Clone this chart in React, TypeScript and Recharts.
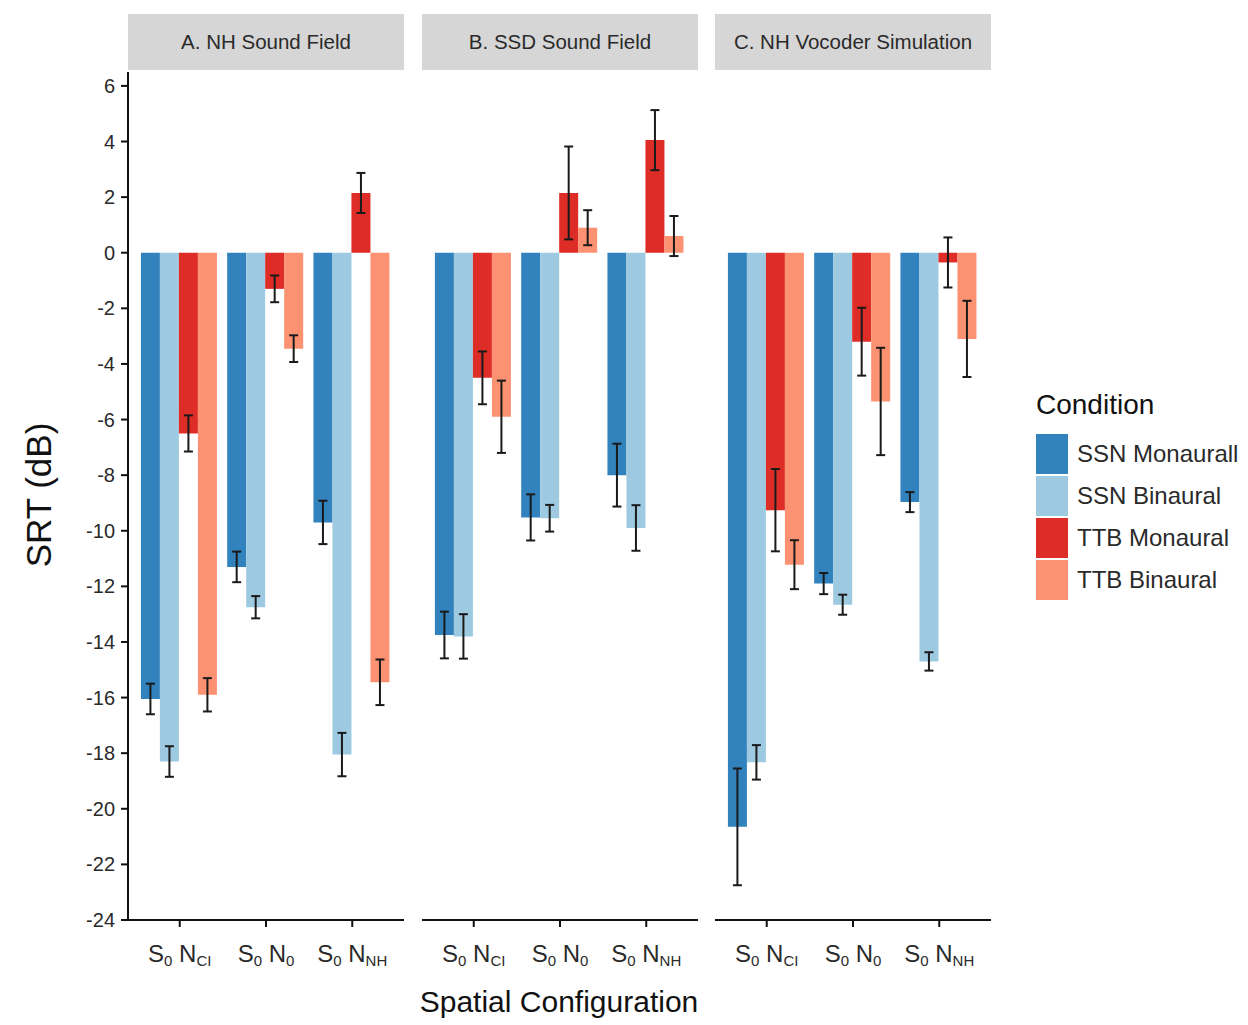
import { BarChart, Bar, XAxis, YAxis, ErrorBar } from "recharts"

const FONT = "'Liberation Sans', Arial, sans-serif"

const C_SSN_MONO = "#3182bd"
const C_SSN_BIN = "#9ecae1"
const C_TTB_MONO = "#de2d26"
const C_TTB_BIN = "#fc9272"

// spatial configurations: [S subscript, N subscript]
const configs = ["S0NCI", "S0N0", "S0NNH"]
const configSubs = [["0", "CI"], ["0", "0"], ["0", "NH"]]

const yTicks = [6, 4, 2, 0, -2, -4, -6, -8, -10, -12, -14, -16, -18, -20, -22, -24]

// A. NH Sound Field
const nhSsnMono = [-16.05, -11.3, -9.7]
const nhSsnBin = [-18.3, -12.75, -18.05]
const nhTtbMono = [-6.5, -1.3, 2.15]
const nhTtbBin = [-15.9, -3.45, -15.45]
const nhSsnMonoErr = [0.55, 0.55, 0.78]
const nhSsnBinErr = [0.55, 0.4, 0.78]
const nhTtbMonoErr = [0.65, 0.48, 0.72]
const nhTtbBinErr = [0.6, 0.48, 0.82]

// B. SSD Sound Field
const ssdSsnMono = [-13.75, -9.52, -8.0]
const ssdSsnBin = [-13.8, -9.55, -9.9]
const ssdTtbMono = [-4.5, 2.15, 4.05]
const ssdTtbBin = [-5.9, 0.9, 0.6]
const ssdSsnMonoErr = [0.84, 0.83, 1.13]
const ssdSsnBinErr = [0.8, 0.48, 0.82]
const ssdTtbMonoErr = [0.95, 1.67, 1.08]
const ssdTtbBinErr = [1.3, 0.63, 0.72]

// C. NH Vocoder Simulation
const vocSsnMono = [-20.65, -11.9, -8.97]
const vocSsnBin = [-18.33, -12.66, -14.7]
const vocTtbMono = [-9.26, -3.2, -0.35]
const vocTtbBin = [-11.22, -5.35, -3.1]
const vocSsnMonoErr = [2.1, 0.38, 0.36]
const vocSsnBinErr = [0.62, 0.36, 0.33]
const vocTtbMonoErr = [1.48, 1.22, 0.9]
const vocTtbBinErr = [0.88, 1.93, 1.37]

function buildRows(sm: number[], sb: number[], tm: number[], tb: number[],
  sme: number[], sbe: number[], tme: number[], tbe: number[]) {
  return configs.map((c, i) => ({
    config: c,
    ssnMono: sm[i], ssnBin: sb[i], ttbMono: tm[i], ttbBin: tb[i],
    ssnMonoErr: sme[i], ssnBinErr: sbe[i], ttbMonoErr: tme[i], ttbBinErr: tbe[i],
  }))
}

const panels = [
  {
    title: "A. NH Sound Field", left: 128, showY: true,
    rows: buildRows(nhSsnMono, nhSsnBin, nhTtbMono, nhTtbBin,
      nhSsnMonoErr, nhSsnBinErr, nhTtbMonoErr, nhTtbBinErr),
  },
  {
    title: "B. SSD Sound Field", left: 422, showY: false,
    rows: buildRows(ssdSsnMono, ssdSsnBin, ssdTtbMono, ssdTtbBin,
      ssdSsnMonoErr, ssdSsnBinErr, ssdTtbMonoErr, ssdTtbBinErr),
  },
  {
    title: "C. NH Vocoder Simulation", left: 715, showY: false,
    rows: buildRows(vocSsnMono, vocSsnBin, vocTtbMono, vocTtbBin,
      vocSsnMonoErr, vocSsnBinErr, vocTtbMonoErr, vocTtbBinErr),
  },
]

const legendItems = [
  { label: "SSN Monaurall", color: C_SSN_MONO },
  { label: "SSN Binaural", color: C_SSN_BIN },
  { label: "TTB Monaural", color: C_TTB_MONO },
  { label: "TTB Binaural", color: C_TTB_BIN },
]

const PLOT_W = 276
const PLOT_TOP = 72
const PLOT_BOTTOM = 920
const CHART_H = 980
const Y_AXIS_W = 70

function ConfigTick(props: any) {
  const { x, y, index } = props
  const [s, n] = configSubs[index] ?? ["", ""]
  return (
    <text x={x} y={y + 33} textAnchor="middle" fill="#2a2a2a" fontFamily={FONT} fontSize={24}>
      <tspan>S</tspan>
      <tspan fontSize={15} dy={4}>{s}</tspan>
      <tspan dy={-4}> N</tspan>
      <tspan fontSize={15} dy={4}>{n}</tspan>
    </text>
  )
}

function Facet({ title, left, showY, rows }: any) {
  const marginLeft = showY ? left - Y_AXIS_W : 2
  const chartLeft = showY ? 0 : left - 2
  const width = (showY ? left : 2) + PLOT_W + 2
  const errStyle = { width: 4.5, stroke: "#1a1a1a", strokeWidth: 2 }
  return (
    <>
      <div style={{
        position: "absolute", left, top: 14, width: PLOT_W, height: 56,
        background: "#d6d6d6", color: "#2a2a2a", fontFamily: FONT, fontSize: 20.5,
        display: "flex", alignItems: "center", justifyContent: "center",
      }}>{title}</div>
      <div style={{ position: "absolute", left: chartLeft, top: 0 }}>
        <BarChart
          width={width} height={CHART_H} data={rows}
          margin={{ top: PLOT_TOP, right: 2, bottom: CHART_H - PLOT_BOTTOM - 50, left: marginLeft }}
          barCategoryGap="5%" barGap={0}
        >
          <XAxis
            dataKey="config" height={50} padding={{ left: 8.6, right: 8.6 }}
            axisLine={{ stroke: "#111", strokeWidth: 2 }}
            tickLine={{ stroke: "#111", strokeWidth: 2 }} tickSize={7}
            tick={<ConfigTick />} interval={0}
          />
          <YAxis
            hide={!showY} width={Y_AXIS_W} domain={[-24, 6.5]} ticks={yTicks}
            type="number" allowDataOverflow
            axisLine={{ stroke: "#111", strokeWidth: 2 }}
            tickLine={{ stroke: "#111", strokeWidth: 2 }} tickSize={7} tickMargin={6}
            tick={{ fill: "#2a2a2a", fontSize: 20, fontFamily: FONT }}
          />
          <Bar dataKey="ssnMono" fill={C_SSN_MONO} isAnimationActive={false}>
            <ErrorBar dataKey="ssnMonoErr" {...errStyle} />
          </Bar>
          <Bar dataKey="ssnBin" fill={C_SSN_BIN} isAnimationActive={false}>
            <ErrorBar dataKey="ssnBinErr" {...errStyle} />
          </Bar>
          <Bar dataKey="ttbMono" fill={C_TTB_MONO} isAnimationActive={false}>
            <ErrorBar dataKey="ttbMonoErr" {...errStyle} />
          </Bar>
          <Bar dataKey="ttbBin" fill={C_TTB_BIN} isAnimationActive={false}>
            <ErrorBar dataKey="ttbBinErr" {...errStyle} />
          </Bar>
        </BarChart>
      </div>
    </>
  )
}

export default function App() {
  return (
    <div style={{ position: "absolute", left: 0, top: 0, width: 1248, height: 1025, background: "#fff", fontFamily: FONT }}>
      {panels.map((p) => <Facet key={p.title} {...p} />)}

      <div style={{
        position: "absolute", left: 39, top: 495, transform: "translate(-50%, -50%) rotate(-90deg)",
        fontSize: 35, color: "#111", whiteSpace: "nowrap",
      }}>SRT (dB)</div>

      <div style={{
        position: "absolute", left: 559, top: 1002, transform: "translate(-50%, -50%)",
        fontSize: 30, color: "#111", whiteSpace: "nowrap",
      }}>Spatial Configuration</div>

      <div style={{ position: "absolute", left: 1036, top: 388 }}>
        <div style={{ fontSize: 28, color: "#111", lineHeight: "34px", marginBottom: 11 }}>Condition</div>
        {legendItems.map((it) => (
          <div key={it.label} style={{ display: "flex", alignItems: "center", height: 42 }}>
            <span style={{ display: "inline-block", width: 32, height: 40, background: it.color }} />
            <span style={{ marginLeft: 9, fontSize: 24, color: "#2a2a2a" }}>{it.label}</span>
          </div>
        ))}
      </div>
    </div>
  )
}
